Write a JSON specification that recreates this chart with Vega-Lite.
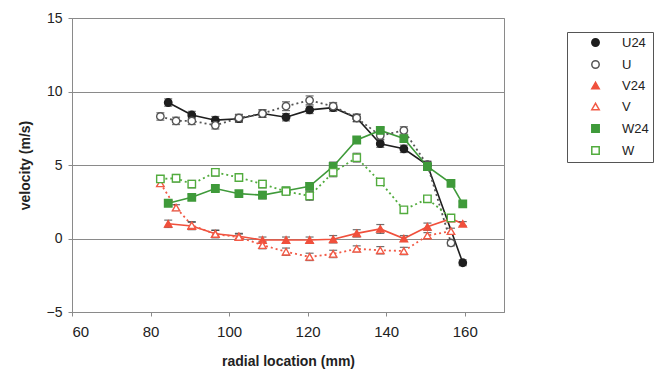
{
  "$schema": "https://vega.github.io/schema/vega-lite/v6.json",
  "width": 432,
  "height": 294,
  "autosize": "none",
  "padding": {"left": 72, "top": 18, "right": 150, "bottom": 63},
  "background": "white",
  "config": {
    "font": "Liberation Sans",
    "view": {"stroke": "#8a8a8a", "strokeWidth": 1},
    "axis": {
      "domainColor": "#8a8a8a",
      "tickColor": "#8a8a8a",
      "tickSize": 4,
      "labelColor": "#222",
      "titleColor": "#222",
      "labelFont": "Liberation Sans",
      "titleFont": "Liberation Sans",
      "titleFontWeight": "bold",
      "titleFontSize": 14,
      "gridColor": "#8a8a8a",
      "gridWidth": 1
    }
  },
  "data": {
    "values": [
      {"series": "U24", "x": 84.5, "y": 9.25, "e": 0.25},
      {"series": "U24", "x": 90.5, "y": 8.4, "e": 0.25},
      {"series": "U24", "x": 96.5, "y": 8.05, "e": 0.25},
      {"series": "U24", "x": 102.5, "y": 8.15, "e": 0.25},
      {"series": "U24", "x": 108.5, "y": 8.5, "e": 0.25},
      {"series": "U24", "x": 114.5, "y": 8.25, "e": 0.25},
      {"series": "U24", "x": 120.5, "y": 8.75, "e": 0.25},
      {"series": "U24", "x": 126.5, "y": 8.9, "e": 0.25},
      {"series": "U24", "x": 132.5, "y": 8.2, "e": 0.25},
      {"series": "U24", "x": 138.5, "y": 6.45, "e": 0.25},
      {"series": "U24", "x": 144.5, "y": 6.1, "e": 0.25},
      {"series": "U24", "x": 150.5, "y": 5.0, "e": 0.25},
      {"series": "U24", "x": 159.5, "y": -1.65, "e": 0.2},
      {"series": "U", "x": 82.5, "y": 8.3, "e": 0.25},
      {"series": "U", "x": 86.5, "y": 8.0, "e": 0.25},
      {"series": "U", "x": 90.5, "y": 8.0, "e": 0.25},
      {"series": "U", "x": 96.5, "y": 7.7, "e": 0.25},
      {"series": "U", "x": 102.5, "y": 8.2, "e": 0.25},
      {"series": "U", "x": 108.5, "y": 8.5, "e": 0.25},
      {"series": "U", "x": 114.5, "y": 9.0, "e": 0.3},
      {"series": "U", "x": 120.5, "y": 9.4, "e": 0.3},
      {"series": "U", "x": 126.5, "y": 9.0, "e": 0.25},
      {"series": "U", "x": 132.5, "y": 8.2, "e": 0.25},
      {"series": "U", "x": 138.5, "y": 7.0, "e": 0.25},
      {"series": "U", "x": 144.5, "y": 7.35, "e": 0.25},
      {"series": "U", "x": 150.5, "y": 5.0, "e": 0.25},
      {"series": "U", "x": 156.5, "y": -0.3, "e": 0.2},
      {"series": "V24", "x": 84.5, "y": 1.0, "e": 0.25},
      {"series": "V24", "x": 90.5, "y": 0.85, "e": 0.25},
      {"series": "V24", "x": 96.5, "y": 0.32, "e": 0.25},
      {"series": "V24", "x": 102.5, "y": 0.15, "e": 0.2},
      {"series": "V24", "x": 108.5, "y": -0.1, "e": 0.2},
      {"series": "V24", "x": 114.5, "y": -0.1, "e": 0.2},
      {"series": "V24", "x": 120.5, "y": -0.1, "e": 0.2},
      {"series": "V24", "x": 126.5, "y": -0.05, "e": 0.25},
      {"series": "V24", "x": 132.5, "y": 0.35, "e": 0.25},
      {"series": "V24", "x": 138.5, "y": 0.65, "e": 0.3},
      {"series": "V24", "x": 144.5, "y": 0.0, "e": 0.2},
      {"series": "V24", "x": 150.5, "y": 0.8, "e": 0.25},
      {"series": "V24", "x": 156.5, "y": 1.35, "e": 0.2},
      {"series": "V24", "x": 159.5, "y": 1.0, "e": 0.15},
      {"series": "V", "x": 82.5, "y": 3.75, "e": 0.2},
      {"series": "V", "x": 86.5, "y": 2.1, "e": 0.2},
      {"series": "V", "x": 90.5, "y": 0.9, "e": 0.25},
      {"series": "V", "x": 96.5, "y": 0.3, "e": 0.25},
      {"series": "V", "x": 102.5, "y": 0.1, "e": 0.2},
      {"series": "V", "x": 108.5, "y": -0.45, "e": 0.25},
      {"series": "V", "x": 114.5, "y": -0.9, "e": 0.25},
      {"series": "V", "x": 120.5, "y": -1.25, "e": 0.25},
      {"series": "V", "x": 126.5, "y": -1.05, "e": 0.25},
      {"series": "V", "x": 132.5, "y": -0.7, "e": 0.2},
      {"series": "V", "x": 138.5, "y": -0.8, "e": 0.25},
      {"series": "V", "x": 144.5, "y": -0.85, "e": 0.25},
      {"series": "V", "x": 150.5, "y": 0.2, "e": 0.2},
      {"series": "V", "x": 156.5, "y": 0.5, "e": 0.2},
      {"series": "W24", "x": 84.5, "y": 2.4, "e": 0.2},
      {"series": "W24", "x": 90.5, "y": 2.8, "e": 0.2},
      {"series": "W24", "x": 96.5, "y": 3.4, "e": 0.2},
      {"series": "W24", "x": 102.5, "y": 3.05, "e": 0.2},
      {"series": "W24", "x": 108.5, "y": 2.95, "e": 0.25},
      {"series": "W24", "x": 114.5, "y": 3.25, "e": 0.2},
      {"series": "W24", "x": 120.5, "y": 3.55, "e": 0.25},
      {"series": "W24", "x": 126.5, "y": 4.9, "e": 0.3},
      {"series": "W24", "x": 132.5, "y": 6.7, "e": 0.2},
      {"series": "W24", "x": 138.5, "y": 7.35, "e": 0.2},
      {"series": "W24", "x": 144.5, "y": 6.8, "e": 0.2},
      {"series": "W24", "x": 150.5, "y": 4.9, "e": 0.2},
      {"series": "W24", "x": 156.5, "y": 3.75, "e": 0.15},
      {"series": "W24", "x": 159.5, "y": 2.35, "e": 0.15},
      {"series": "W", "x": 82.5, "y": 4.05, "e": 0.2},
      {"series": "W", "x": 86.5, "y": 4.1, "e": 0.25},
      {"series": "W", "x": 90.5, "y": 3.7, "e": 0.25},
      {"series": "W", "x": 96.5, "y": 4.5, "e": 0.25},
      {"series": "W", "x": 102.5, "y": 4.15, "e": 0.25},
      {"series": "W", "x": 108.5, "y": 3.7, "e": 0.25},
      {"series": "W", "x": 114.5, "y": 3.2, "e": 0.25},
      {"series": "W", "x": 120.5, "y": 2.9, "e": 0.3},
      {"series": "W", "x": 126.5, "y": 4.5, "e": 0.3},
      {"series": "W", "x": 132.5, "y": 5.5, "e": 0.3},
      {"series": "W", "x": 138.5, "y": 3.85, "e": 0.2},
      {"series": "W", "x": 144.5, "y": 1.95, "e": 0.2},
      {"series": "W", "x": 150.5, "y": 2.7, "e": 0.2},
      {"series": "W", "x": 156.5, "y": 1.4, "e": 0.15}
    ]
  },
  "encoding": {
    "x": {
      "field": "x",
      "type": "quantitative",
      "scale": {"domain": [60, 170], "nice": false, "zero": false},
      "axis": {
        "values": [60, 80, 100, 120, 140, 160],
        "title": "radial location (mm)",
        "grid": false,
        "labelFontSize": 15,
        "labelPadding": 8,
        "titlePadding": 15
      }
    },
    "y": {
      "field": "y",
      "type": "quantitative",
      "scale": {"domain": [-5, 15], "nice": false, "zero": false},
      "axis": {
        "values": [-5, 0, 5, 10, 15],
        "title": "velocity (m/s)",
        "grid": true,
        "labelFontSize": 14,
        "labelPadding": 6,
        "titlePadding": 14
      }
    }
  },
  "layer": [
    {
      "transform": [{"filter": {"field": "series", "oneOf": ["U24", "V24", "W24"]}}],
      "mark": {"type": "line", "strokeWidth": 1.6},
      "encoding": {
        "color": {
          "field": "series",
          "type": "nominal",
          "sort": ["U24", "U", "V24", "V", "W24", "W"],
          "scale": {
            "domain": ["U24", "U", "V24", "V", "W24", "W"],
            "range": ["#1e1e1e", "#555555", "#f0503c", "#f25a46", "#3f9a3a", "#52ac3e"]
          },
          "legend": {
            "title": null,
            "orient": "none",
            "legendX": 495,
            "legendY": 14,
            "strokeColor": "#555",
            "padding": 4,
            "labelFontSize": 13,
            "labelColor": "#222",
            "symbolSize": 55,
            "symbolStrokeWidth": 1.5,
            "symbolOpacity": 1,
            "symbolOffset": 18,
            "rowPadding": 7,
            "labelOffset": 20
          }
        }
      }
    },
    {
      "transform": [{"filter": {"field": "series", "oneOf": ["U", "V", "W"]}}],
      "mark": {"type": "line", "strokeWidth": 1.8, "strokeDash": [2, 3]},
      "encoding": {
        "color": {
          "field": "series",
          "type": "nominal"
        }
      }
    },
    {
      "mark": {"type": "errorbar", "ticks": {"size": 8, "thickness": 1.2}, "color": "#333", "thickness": 1},
      "encoding": {
        "yError": {"field": "e"}
      }
    },
    {
      "mark": {"type": "point", "size": 55, "strokeWidth": 1.4, "opacity": 1},
      "encoding": {
        "stroke": {
          "field": "series",
          "type": "nominal",
          "scale": {
            "domain": ["U24", "U", "V24", "V", "W24", "W"],
            "range": ["#1e1e1e", "#555555", "#f0503c", "#f25a46", "#3f9a3a", "#52ac3e"]
          },
          "legend": null
        },
        "shape": {
          "field": "series",
          "type": "nominal",
          "scale": {
            "domain": ["U24", "U", "V24", "V", "W24", "W"],
            "range": ["circle", "circle", "triangle-up", "triangle-up", "square", "square"]
          },
          "legend": null
        },
        "fill": {
          "field": "series",
          "type": "nominal",
          "scale": {
            "domain": ["U24", "U", "V24", "V", "W24", "W"],
            "range": ["#1e1e1e", "#ffffff", "#f0503c", "#ffffff", "#3f9a3a", "#ffffff"]
          },
          "legend": null
        }
      }
    }
  ]
}
